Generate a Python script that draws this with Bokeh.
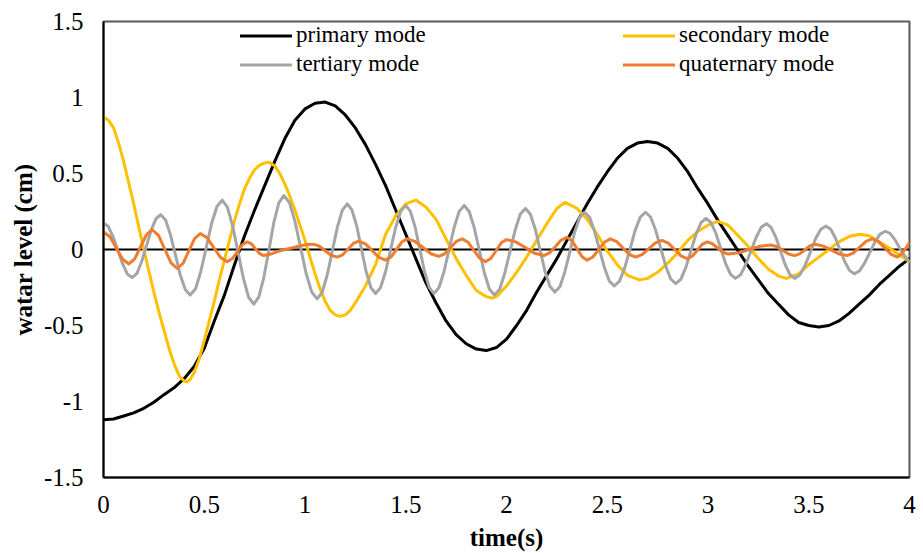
from bokeh.plotting import figure
from bokeh.models import (Range1d, FixedTicker, CustomJSTickFormatter, Span,
                          Legend, LegendItem)
from bokeh.embed import file_html
from bokeh.resources import INLINE

# ---------------- data ----------------
x_ticks = [0, 0.5, 1, 1.5, 2, 2.5, 3, 3.5, 4]
y_ticks = [-1.5, -1, -0.5, 0, 0.5, 1, 1.5]

series_names = ["primary mode", "secondary mode", "tertiary mode", "quaternary mode"]

# primary mode (sampled every 0.05 s)
prim_t = [0.00, 0.05, 0.10, 0.15, 0.20, 0.25, 0.30, 0.35, 0.40, 0.45,
          0.50, 0.55, 0.60, 0.65, 0.70, 0.75, 0.80, 0.85, 0.90, 0.95,
          1.00, 1.05, 1.10, 1.15, 1.20, 1.25, 1.30, 1.35, 1.40, 1.45,
          1.50, 1.55, 1.60, 1.65, 1.70, 1.75, 1.80, 1.85, 1.90, 1.95,
          2.00, 2.05, 2.10, 2.15, 2.20, 2.25, 2.30, 2.35, 2.40, 2.45,
          2.50, 2.55, 2.60, 2.65, 2.70, 2.75, 2.80, 2.85, 2.90, 2.95,
          3.00, 3.05, 3.10, 3.15, 3.20, 3.25, 3.30, 3.35, 3.40, 3.45,
          3.50, 3.55, 3.60, 3.65, 3.70, 3.75, 3.80, 3.85, 3.90, 3.95, 4.00]
prim_v = [-1.120, -1.115, -1.095, -1.075, -1.045, -1.005, -0.955, -0.910, -0.850, -0.770,
          -0.650, -0.470, -0.300, -0.100, 0.090, 0.260, 0.420, 0.580, 0.730, 0.850,
          0.925, 0.962, 0.970, 0.945, 0.885, 0.800, 0.690, 0.560, 0.420, 0.260,
          0.100, -0.060, -0.220, -0.350, -0.470, -0.560, -0.620, -0.655, -0.665, -0.645,
          -0.590, -0.500, -0.400, -0.280, -0.170, -0.060, 0.060, 0.180, 0.300, 0.410,
          0.510, 0.600, 0.665, 0.700, 0.710, 0.700, 0.665, 0.600, 0.510, 0.400,
          0.300, 0.190, 0.090, -0.010, -0.110, -0.200, -0.290, -0.360, -0.430, -0.480,
          -0.500, -0.510, -0.500, -0.470, -0.420, -0.360, -0.300, -0.230, -0.170, -0.110, -0.060]

# secondary mode
sec_t = [0.000, 0.025, 0.050, 0.075, 0.100, 0.125, 0.150, 0.175, 0.200, 0.225,
         0.250, 0.275, 0.300, 0.325, 0.350, 0.375, 0.400, 0.415, 0.430, 0.450,
         0.475, 0.500, 0.525, 0.550, 0.575, 0.600, 0.625, 0.650, 0.675, 0.700,
         0.725, 0.750, 0.775, 0.800, 0.820, 0.850, 0.875, 0.900, 0.925, 0.950,
         0.975, 1.000, 1.025, 1.050, 1.075, 1.100, 1.125, 1.150, 1.175, 1.200,
         1.225, 1.250, 1.300, 1.350, 1.400, 1.450, 1.500, 1.550, 1.600, 1.650,
         1.700, 1.750, 1.800, 1.850, 1.900, 1.930, 1.950, 2.000, 2.050, 2.100,
         2.150, 2.200, 2.250, 2.290, 2.350, 2.400, 2.450, 2.500, 2.550, 2.600,
         2.660, 2.700, 2.750, 2.800, 2.850, 2.900, 2.950, 3.000, 3.050, 3.100,
         3.150, 3.200, 3.250, 3.300, 3.350, 3.390, 3.450, 3.500, 3.550, 3.600,
         3.650, 3.700, 3.750, 3.800, 3.850, 3.900, 3.950, 4.000]
sec_v = [0.870, 0.850, 0.800, 0.700, 0.580, 0.440, 0.300, 0.150, 0.000, -0.140,
         -0.280, -0.410, -0.530, -0.650, -0.750, -0.830, -0.865, -0.870, -0.855, -0.810,
         -0.720, -0.600, -0.470, -0.340, -0.200, -0.070, 0.060, 0.190, 0.300, 0.400,
         0.470, 0.525, 0.555, 0.570, 0.575, 0.550, 0.500, 0.430, 0.350, 0.260,
         0.160, 0.060, -0.050, -0.160, -0.260, -0.340, -0.400, -0.430, -0.440, -0.430,
         -0.400, -0.350, -0.240, -0.100, 0.100, 0.220, 0.300, 0.325, 0.280, 0.200,
         0.070, -0.060, -0.170, -0.270, -0.310, -0.320, -0.310, -0.240, -0.150, -0.050,
         0.060, 0.170, 0.270, 0.310, 0.270, 0.200, 0.100, -0.010, -0.100, -0.170,
         -0.200, -0.190, -0.150, -0.090, -0.020, 0.060, 0.120, 0.160, 0.185, 0.160,
         0.090, 0.020, -0.060, -0.130, -0.175, -0.190, -0.160, -0.100, -0.050, 0.000,
         0.050, 0.085, 0.100, 0.090, 0.050, 0.010, -0.035, -0.080]

# tertiary mode
tert_t = [0.000, 0.024, 0.047, 0.071, 0.095, 0.118,
          0.142, 0.166, 0.189, 0.213, 0.236, 0.260,
          0.283, 0.308, 0.332, 0.357, 0.381, 0.406,
          0.430, 0.457, 0.483, 0.510, 0.536, 0.563,
          0.589, 0.615, 0.641, 0.668, 0.694, 0.720,
          0.746, 0.771, 0.796, 0.821, 0.845, 0.870,
          0.895, 0.923, 0.950, 0.978, 1.005, 1.033,
          1.060, 1.085, 1.110, 1.135, 1.160, 1.185,
          1.210, 1.233, 1.257, 1.280, 1.303, 1.327,
          1.350, 1.375, 1.400, 1.425, 1.450, 1.475,
          1.500, 1.523, 1.547, 1.570, 1.593, 1.617,
          1.640, 1.665, 1.690, 1.715, 1.740, 1.765,
          1.790, 1.815, 1.840, 1.865, 1.890, 1.915,
          1.940, 1.966, 1.991, 2.017, 2.043, 2.068,
          2.094, 2.118, 2.143, 2.167, 2.191, 2.216,
          2.240, 2.265, 2.289, 2.314, 2.338, 2.363,
          2.387, 2.412, 2.436, 2.461, 2.486, 2.510,
          2.535, 2.561, 2.587, 2.613, 2.638, 2.664,
          2.690, 2.715, 2.740, 2.765, 2.790, 2.815,
          2.840, 2.865, 2.890, 2.915, 2.940, 2.965,
          2.990, 3.014, 3.039, 3.063, 3.087, 3.112,
          3.136, 3.162, 3.187, 3.213, 3.239, 3.264,
          3.290, 3.313, 3.337, 3.360, 3.383, 3.407,
          3.430, 3.456, 3.482, 3.508, 3.533, 3.559,
          3.585, 3.609, 3.632, 3.656, 3.679, 3.703,
          3.726, 3.752, 3.777, 3.803, 3.829, 3.854,
          3.880, 3.905, 3.930, 3.955, 3.980, 4.000]
tert_v = [0.175, 0.151, 0.085, -0.005, -0.095, -0.161,
          -0.185, -0.157, -0.081, 0.022, 0.126, 0.202,
          0.230, 0.194, 0.098, -0.035, -0.168, -0.264,
          -0.300, -0.258, -0.144, 0.013, 0.169, 0.283,
          0.325, 0.279, 0.154, -0.018, -0.189, -0.314,
          -0.360, -0.312, -0.181, -0.003, 0.176, 0.307,
          0.355, 0.309, 0.185, 0.015, -0.155, -0.279,
          -0.325, -0.283, -0.169, -0.013, 0.144, 0.258,
          0.300, 0.260, 0.153, 0.005, -0.143, -0.250,
          -0.290, -0.251, -0.145, 0.000, 0.145, 0.251,
          0.290, 0.251, 0.145, 0.000, -0.145, -0.251,
          -0.290, -0.251, -0.145, 0.000, 0.145, 0.251,
          0.290, 0.250, 0.143, -0.005, -0.153, -0.260,
          -0.300, -0.262, -0.158, -0.015, 0.128, 0.232,
          0.270, 0.233, 0.133, -0.005, -0.143, -0.243,
          -0.280, -0.245, -0.149, -0.018, 0.114, 0.210,
          0.245, 0.213, 0.124, 0.003, -0.119, -0.208,
          -0.240, -0.208, -0.119, 0.003, 0.124, 0.213,
          0.245, 0.214, 0.128, 0.010, -0.108, -0.194,
          -0.225, -0.196, -0.118, -0.010, 0.098, 0.176,
          0.205, 0.179, 0.107, 0.008, -0.091, -0.164,
          -0.190, -0.166, -0.100, -0.010, 0.080, 0.146,
          0.170, 0.146, 0.080, -0.010, -0.100, -0.166,
          -0.190, -0.167, -0.104, -0.018, 0.069, 0.132,
          0.155, 0.134, 0.076, -0.003, -0.081, -0.139,
          -0.160, -0.141, -0.090, -0.020, 0.050, 0.101,
          0.120, 0.104, 0.060, 0.000, -0.050, -0.080]

# quaternary mode
quat_t = [0.000, 0.032, 0.063, 0.095, 0.126, 0.155, 0.184, 0.213,
          0.242, 0.273, 0.304, 0.335, 0.366, 0.395, 0.423, 0.452,
          0.480, 0.514, 0.547, 0.581, 0.614, 0.639, 0.664, 0.688,
          0.713, 0.734, 0.754, 0.775, 0.795, 0.830, 0.860, 0.900,
          0.940, 0.977, 1.010, 1.040, 1.070, 1.100, 1.130, 1.160,
          1.187, 1.214, 1.240, 1.267, 1.300, 1.334, 1.367, 1.400,
          1.427, 1.454, 1.480, 1.507, 1.546, 1.586, 1.625, 1.664,
          1.693, 1.722, 1.751, 1.780, 1.809, 1.838, 1.867, 1.896,
          1.922, 1.948, 1.974, 2.000, 2.046, 2.093, 2.139, 2.185,
          2.214, 2.243, 2.271, 2.300, 2.325, 2.350, 2.375, 2.400,
          2.429, 2.458, 2.487, 2.516, 2.547, 2.578, 2.609, 2.640,
          2.673, 2.706, 2.739, 2.772, 2.803, 2.835, 2.866, 2.897,
          2.922, 2.947, 2.971, 2.996, 3.022, 3.048, 3.074, 3.100,
          3.153, 3.205, 3.258, 3.310, 3.340, 3.370, 3.400, 3.430,
          3.455, 3.480, 3.505, 3.530, 3.570, 3.610, 3.650, 3.690,
          3.721, 3.753, 3.784, 3.815, 3.846, 3.878, 3.909, 3.940,
          3.960, 3.980, 4.000]
quat_v = [0.115, 0.084, 0.010, -0.064, -0.095, -0.062, 0.018, 0.097,
          0.130, 0.093, 0.003, -0.088, -0.125, -0.091, -0.010, 0.071,
          0.105, 0.078, 0.013, -0.053, -0.080, -0.061, -0.015, 0.031,
          0.050, 0.037, 0.005, -0.027, -0.040, -0.030, -0.015, 0.000,
          0.012, 0.025, 0.033, 0.035, 0.023, -0.008, -0.038, -0.050,
          -0.035, 0.003, 0.040, 0.055, 0.037, -0.008, -0.052, -0.070,
          -0.049, 0.000, 0.049, 0.070, 0.053, 0.013, -0.028, -0.045,
          -0.028, 0.013, 0.053, 0.070, 0.048, -0.005, -0.058, -0.080,
          -0.059, -0.008, 0.044, 0.065, 0.050, 0.013, -0.025, -0.040,
          -0.022, 0.020, 0.062, 0.080, 0.058, 0.005, -0.048, -0.070,
          -0.049, 0.000, 0.049, 0.070, 0.052, 0.010, -0.032, -0.050,
          -0.034, 0.005, 0.044, 0.060, 0.042, 0.000, -0.042, -0.060,
          -0.044, -0.005, 0.034, 0.050, 0.038, 0.010, -0.018, -0.030,
          -0.021, 0.000, 0.021, 0.030, 0.020, -0.005, -0.030, -0.040,
          -0.029, -0.003, 0.024, 0.035, 0.024, -0.003, -0.029, -0.040,
          -0.024, 0.015, 0.054, 0.070, 0.052, 0.010, -0.032, -0.050,
          -0.030, 0.005, 0.045]

colors = ["#000000", "#FFC000", "#A5A5A5", "#ED7D31"]
x_title = "time(s)"
y_title = "watar level (cm)"

# ---------------- figure ----------------
FONT = "Liberation Serif"

p = figure(width=923, height=553, output_backend="svg", toolbar_location=None,
           x_range=Range1d(0, 4), y_range=Range1d(-1.5, 1.5))
p.min_border_left = 103
p.min_border_right = 14
p.min_border_top = 21
p.min_border_bottom = 76
p.background_fill_color = "white"
p.border_fill_color = "white"
p.xgrid.visible = False
p.ygrid.visible = False
p.outline_line_color = "#595959"
p.outline_line_width = 2

fmt = CustomJSTickFormatter(code="return String(tick);")
for ax, ticks in ((p.xaxis[0], x_ticks), (p.yaxis[0], y_ticks)):
    ax.ticker = FixedTicker(ticks=ticks)
    ax.formatter = fmt
    ax.axis_line_color = "black"
    ax.axis_line_width = 2
    ax.major_tick_in = 0
    ax.major_tick_out = 0
    ax.minor_tick_in = 0
    ax.minor_tick_out = 0
    ax.major_label_text_font = FONT
    ax.major_label_text_font_size = "25px"
    ax.major_label_text_color = "black"
    ax.axis_label_text_font = FONT
    ax.axis_label_text_font_size = "25px"
    ax.axis_label_text_font_style = "bold"
    ax.axis_label_text_color = "black"

p.xaxis.axis_label = x_title
p.xaxis.major_label_standoff = 18
p.xaxis.axis_label_standoff = 8
p.yaxis.axis_label = y_title
p.yaxis.major_label_standoff = 20
p.yaxis.axis_label_standoff = 4

zero = Span(location=0, dimension="width", line_color="black", line_width=2,
            level="underlay")
p.add_layout(zero)

renderers = []
for (t, v), c in zip(((prim_t, prim_v), (sec_t, sec_v), (tert_t, tert_v), (quat_t, quat_v)), colors):
    r = p.line(t, v, line_color=c, line_width=3, line_join="round", line_cap="round")
    renderers.append(r)

def make_legend(items, loc):
    lg = Legend(items=items, location=loc, orientation="vertical")
    lg.glyph_width = 52
    lg.glyph_height = 25
    lg.label_height = 25
    lg.spacing = 3
    lg.padding = 0
    lg.margin = 0
    lg.label_standoff = 4
    lg.border_line_alpha = 0
    lg.background_fill_alpha = 0
    lg.label_text_font = FONT
    lg.label_text_font_size = "23px"
    lg.label_text_color = "black"
    return lg

leg1 = make_legend([LegendItem(label=series_names[0], renderers=[renderers[0]]),
                    LegendItem(label=series_names[2], renderers=[renderers[2]])], (137, 400))
leg2 = make_legend([LegendItem(label=series_names[1], renderers=[renderers[1]]),
                    LegendItem(label=series_names[3], renderers=[renderers[3]])], (520, 400))
p.add_layout(leg1, "center")
p.add_layout(leg2, "center")

open("out.html", "w").write(file_html(p, INLINE))
